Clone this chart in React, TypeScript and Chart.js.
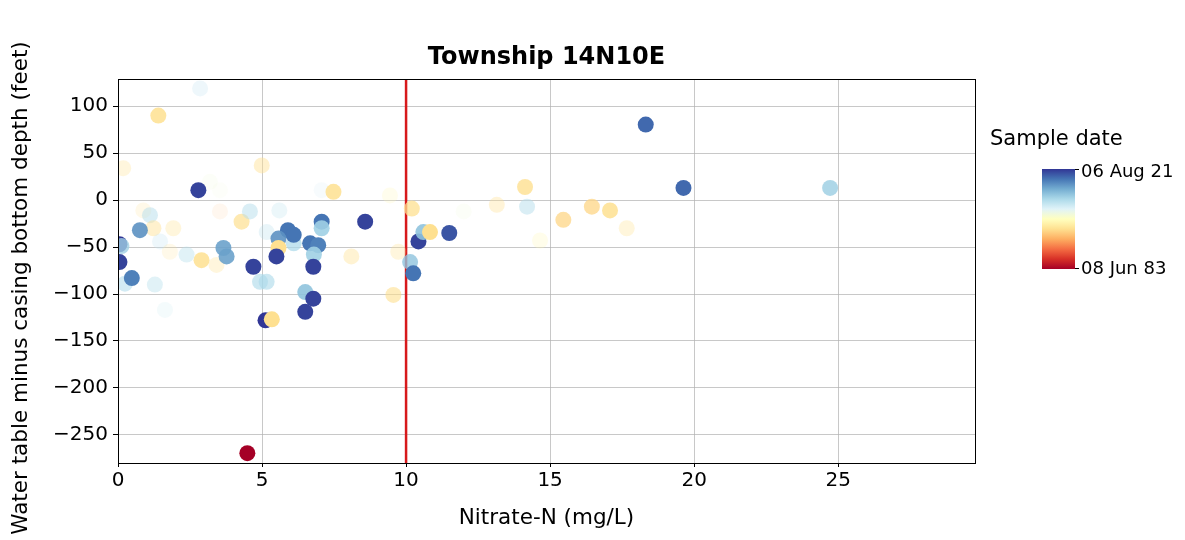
import React, { useEffect, useRef } from 'react';
import { Chart, registerables } from 'chart.js';
Chart.register(...registerables);

const chartTitle = 'Township 14N10E';
const xAxisTitle = 'Nitrate-N (mg/L)';
const yAxisTitle = 'Water table minus casing bottom depth (feet)';
const colorbarTitle = 'Sample date';
const colorbarTopLabel = '06 Aug 21';
const colorbarBottomLabel = '08 Jun 83';
const dateMin = 1983.44;
const dateMax = 2021.6;
const nitrateLimit = 10;

const xTickValues = [0, 5, 10, 15, 20, 25];
const yTickValues = [-250, -200, -150, -100, -50, 0, 50, 100];
const xRange = [0, 29.75];
const yRange = [-280, 129];

const nitrate = [
  2.85, 1.4, 0.18, 4.99, 3.19, 3.54, 7.07, 7.48, 9.44, 10.2,
  13.15, 14.13, 14.2, 15.46, 16.45, 17.08, 17.66, 14.65, 12.0, 9.73,
  8.1, 9.56, 0.88, 1.11, 1.23, 1.92, 1.46, 1.8, 2.38, 2.9,
  3.42, 3.54, 4.29, 4.58, 1.28, 0.24, 1.63, 4.93, 5.16, 5.16,
  5.6, 6.1,
  2.79, 18.32, 19.63, 24.72, 8.58, 7.07, 7.07, 5.9, 6.1, 5.57,
  5.57, 5.5, 6.67, 6.95, 6.8, 6.78, 6.5, 6.78, 6.5, 5.12,
  5.34, 10.14, 10.25, 10.43, 10.6, 10.83, 11.5, 0.76, 0.05, 0.12,
  0.05, 0.48, 3.66, 3.77, 4.7, 4.49,
];
const depthDiff = [
  119, 90, 34, 37, 19.5, 10.6, 10.6, 8.8, 5, -9,
  -5, 14, -7, -21, -7, -11, -30, -43, -12, -55,
  -60, -101, -11, -16, -30, -30, -44, -55, -58, -64,
  -69, -12, -23, -12, -90, -89, -117, -87, -87, -34,
  -11, -46,
  10.6, 80.5, 13, 13, -23, -23, -30, -32, -37, -41,
  -51, -60, -46, -48, -58, -71, -98, -105, -119, -128,
  -127, -66, -78, -44, -34, -34, -35, -32, -47, -49,
  -66, -83, -51, -60, -71, -269.5,
];
const sampleYear = [
  2010.2, 1998.7, 1998.7, 1998.7, 2004.4, 2004.4, 2008.2, 1998.7, 2001.8, 1998.7,
  1998.7, 1998.7, 2009.4, 1997.9, 1997.9, 1998.7, 1999.5, 2001.4, 2004.4, 1998.7,
  1998.7, 1998.7, 1998.7, 2009.4, 1998.7, 1999.5, 2008.2, 1998.7, 2009.4, 1998.7,
  1998.7, 1994.9, 1998.7, 2009.4, 2009.4, 2009.4, 2007.1, 2010.2, 2010.2, 2009.4,
  2009.4, 2010.2,
  2020.8, 2018.5, 2018.5, 2010.9, 2020.8, 2017.8, 2010.9, 2017.8, 2017.8, 2015.9,
  1998.7, 2020.8, 2017.8, 2017.0, 2010.9, 2020.8, 2012.1, 2020.8, 2020.8, 2021.6,
  1998.7, 2012.1, 2017.8, 2020.8, 2012.1, 1998.7, 2019.7, 2015.9, 2021.6, 2010.9,
  2020.8, 2017.0, 2014.7, 2014.7, 2020.8, 1983.4,
];
const pointAlpha = [
  0.2, 0.85, 0.3, 0.45, 0.2, 0.15, 0.15, 0.85, 0.25, 0.75,
  0.35, 0.8, 0.5, 0.75, 0.75, 0.85, 0.35, 0.25, 0.2, 0.3,
  0.4, 0.6, 0.2, 0.5, 0.45, 0.35, 0.3, 0.2, 0.4, 0.85,
  0.3, 0.1, 0.7, 0.5, 0.4, 0.6, 0.25, 0.6, 0.6, 0.3,
  0.25, 0.7,
  1, 1, 1, 0.85, 1, 1, 0.9, 1, 1, 0.9,
  1, 1, 1, 1, 0.9, 1, 0.9, 1, 1, 1,
  1, 0.8, 1, 1, 0.9, 1, 1, 0.9, 1, 0.8,
  1, 1, 0.9, 0.9, 1, 1,
];

const RdYlBu = [
  '#a50026', '#d73027', '#f46d43', '#fdae61', '#fee090', '#ffffbf',
  '#e0f3f8', '#abd9e9', '#74add1', '#4575b4', '#313695',
];

function hexToRgb(h: string) {
  return [parseInt(h.slice(1, 3), 16), parseInt(h.slice(3, 5), 16), parseInt(h.slice(5, 7), 16)];
}
function cmap(f: number, a = 1) {
  const t = Math.max(0, Math.min(1, f)) * (RdYlBu.length - 1);
  const i = Math.min(Math.floor(t), RdYlBu.length - 2);
  const u = t - i;
  const c0 = hexToRgb(RdYlBu[i]);
  const c1 = hexToRgb(RdYlBu[i + 1]);
  const c = c0.map((v, k) => Math.round(v + (c1[k] - v) * u));
  return `rgba(${c[0]},${c[1]},${c[2]},${a})`;
}

const FONT = "'DejaVu Sans', sans-serif";

const decorPlugin = {
  id: 'decor',
  beforeDatasetsDraw(chart: any) {
    const { ctx, chartArea, scales } = chart;
    const x = scales.x.getPixelForValue(nitrateLimit);
    ctx.save();
    ctx.strokeStyle = '#d7191c';
    ctx.lineWidth = 2.5;
    ctx.beginPath();
    ctx.moveTo(x, chartArea.top);
    ctx.lineTo(x, chartArea.bottom);
    ctx.stroke();
    ctx.restore();
  },
  afterDraw(chart: any) {
    const { ctx, chartArea } = chart;
    ctx.save();
    ctx.strokeStyle = '#000';
    ctx.lineWidth = 1;
    ctx.strokeRect(chartArea.left + 0.5, chartArea.top + 0.5, chartArea.right - chartArea.left, chartArea.bottom - chartArea.top);
    ctx.fillStyle = '#000';
    ctx.font = `bold 24px ${FONT}`;
    ctx.textAlign = 'center';
    ctx.textBaseline = 'middle';
    ctx.fillText(chartTitle, (chartArea.left + chartArea.right) / 2, 58);
    // y axis title
    ctx.save();
    ctx.translate(21, 288);
    ctx.rotate(-Math.PI / 2);
    ctx.font = `21.5px ${FONT}`;
    ctx.textAlign = 'center';
    ctx.textBaseline = 'middle';
    ctx.fillText(yAxisTitle, 0, 0);
    ctx.restore();
    // colorbar
    const cbL = 1042, cbT = 169, cbW = 33, cbH = 100;
    const g = ctx.createLinearGradient(0, cbT + cbH, 0, cbT);
    for (let k = 0; k <= 20; k++) g.addColorStop(k / 20, cmap(k / 20));
    ctx.fillStyle = g;
    ctx.fillRect(cbL, cbT, cbW, cbH);
    ctx.strokeStyle = '#000';
    ctx.lineWidth = 1;
    ctx.beginPath();
    ctx.moveTo(cbL + cbW, cbT + 0.5); ctx.lineTo(cbL + cbW + 4, cbT + 0.5);
    ctx.moveTo(cbL + cbW, cbT + cbH - 0.5); ctx.lineTo(cbL + cbW + 4, cbT + cbH - 0.5);
    ctx.stroke();
    ctx.fillStyle = '#000';
    ctx.font = `18px ${FONT}`;
    ctx.textAlign = 'left';
    ctx.textBaseline = 'middle';
    ctx.fillText(colorbarTopLabel, cbL + cbW + 6, cbT + 3);
    ctx.fillText(colorbarBottomLabel, cbL + cbW + 6, cbT + cbH);
    ctx.font = `21px ${FONT}`;
    ctx.fillText(colorbarTitle, 990, 140);
    ctx.restore();
  },
};

function fmt(v: number) {
  return v < 0 ? '\u2212' + Math.abs(v) : String(v);
}

export default function App() {
  const ref = useRef<HTMLCanvasElement>(null);
  useEffect(() => {
    if (!ref.current) return;
    const points = nitrate.map((x, i) => ({ x, y: depthDiff[i] }));
    const colors = sampleYear.map((d, i) => cmap((d - dateMin) / (dateMax - dateMin), pointAlpha[i]));
    const chart = new Chart(ref.current, {
      type: 'scatter',
      data: {
        datasets: [
          {
            data: points,
            backgroundColor: colors,
            borderWidth: 0,
            pointRadius: 8,
            pointHoverRadius: 8,
          },
        ],
      },
      options: {
        animation: false,
        responsive: false,
        devicePixelRatio: 1,
        events: [],
        layout: { padding: { left: 0, right: 210, top: 79, bottom: 0 } },
        plugins: { legend: { display: false }, tooltip: { enabled: false } },
        scales: {
          x: {
            type: 'linear',
            min: xRange[0],
            max: xRange[1],
            afterBuildTicks: (s: any) => { s.ticks = xTickValues.map((v) => ({ value: v })); },
            afterFit: (s: any) => { s.height = 77; },
            ticks: { color: '#000', font: { family: FONT, size: 20 }, padding: 2, maxRotation: 0, callback: (v: any) => fmt(Number(v)) },
            grid: { color: 'rgba(176,176,176,0.7)', lineWidth: 1, tickColor: '#000', tickLength: 4 },
            border: { color: '#000', width: 1 },
            title: { display: true, text: xAxisTitle, color: '#000', font: { family: FONT, size: 21.5 }, padding: { top: 0, bottom: 9 } },
          },
          y: {
            type: 'linear',
            min: yRange[0],
            max: yRange[1],
            afterBuildTicks: (s: any) => { s.ticks = yTickValues.map((v) => ({ value: v })); },
            afterFit: (s: any) => { s.width = 118; },
            ticks: { color: '#000', font: { family: FONT, size: 20 }, padding: 5, callback: (v: any) => fmt(Number(v)) },
            grid: { color: 'rgba(176,176,176,0.7)', lineWidth: 1, tickColor: '#000', tickLength: 5 },
            border: { color: '#000', width: 1 },
            title: { display: false },
          },
        },
      },
      plugins: [decorPlugin],
    });
    return () => chart.destroy();
  }, []);
  return (
    <div style={{ position: 'fixed', left: 0, top: 0, width: 1185, height: 540, background: '#fff' }}>
      <canvas ref={ref} width={1185} height={540} style={{ width: 1185, height: 540 }} />
    </div>
  );
}
